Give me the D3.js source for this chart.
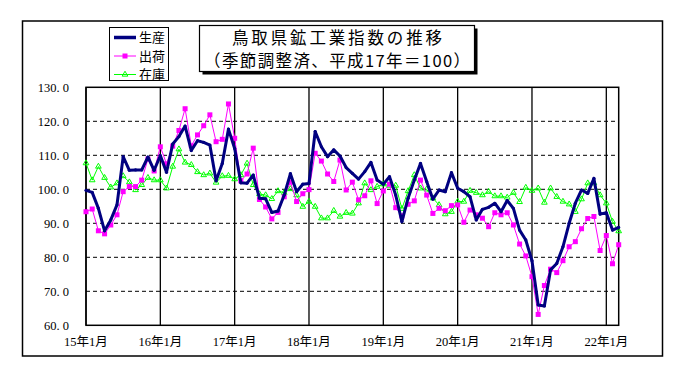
<!DOCTYPE html>
<html>
<head>
<meta charset="utf-8">
<script src="https://cdn.jsdelivr.net/npm/d3@7/dist/d3.min.js"></script>
<style>
  html, body { margin: 0; padding: 0; background: #fff; }
  svg { display: block; }
</style>
</head>
<body>
<svg id="chart" width="680" height="378"></svg>
<script>
// ---- data (monthly, 2015-01 .. 2022-03) ----
const seriesNames = ["生産", "出荷", "在庫"];
const production = [99.7, 99.1, 94.4, 87.8, 91.0, 95.4, 109.6, 105.6, 105.7, 105.7,
  109.5, 105.6, 109.9, 105.0, 113.3, 115.5, 118.6, 111.4, 114.3, 113.8,
  113.0, 102.5, 107.6, 117.7, 112.0, 101.9, 101.8, 104.2, 97.4, 97.2,
  93.2, 93.6, 98.3, 104.6, 99.3, 101.5, 101.7, 117.0, 112.5, 109.6,
  111.6, 109.8, 106.4, 104.7, 103.0, 105.2, 107.9, 102.7, 101.5, 103.7,
  98.3, 90.5, 97.4, 102.7, 107.6, 102.3, 97.1, 99.8, 99.3, 104.9,
  100.3, 99.3, 97.8, 91.0, 94.1, 94.7, 95.9, 93.4, 96.7, 94.4,
  88.0, 85.1, 79.0, 66.0, 65.7, 76.3, 78.2, 83.1, 90.0, 95.9,
  99.8, 98.8, 103.2, 92.7, 93.1, 88.0, 88.8];
const shipments = [93.4, 94.2, 87.8, 86.9, 89.5, 92.5, 99.3, 100.8, 100.8, 102.7,
  108.9, 105.4, 112.5, 107.5, 112.7, 117.3, 123.7, 112.8, 116.0, 118.7,
  121.9, 114.0, 114.7, 125.1, 115.0, 102.5, 104.5, 112.1, 97.0, 94.8,
  91.3, 93.2, 97.8, 102.1, 96.4, 98.7, 99.9, 110.6, 108.3, 104.5,
  102.3, 108.6, 99.8, 102.1, 96.9, 98.1, 102.5, 95.8, 99.5, 101.5,
  94.6, 92.2, 95.6, 96.6, 102.7, 98.3, 92.9, 94.4, 93.7, 95.2,
  95.4, 90.3, 93.9, 92.5, 91.5, 89.0, 93.1, 92.5, 93.1, 89.5,
  83.9, 80.4, 74.3, 63.2, 71.7, 76.5, 75.5, 79.0, 83.1, 84.6,
  88.4, 91.4, 92.0, 82.0, 86.4, 78.1, 83.7];
const inventory = [107.7, 102.7, 106.7, 103.4, 100.6, 101.8, 103.9, 102.1, 99.8, 101.3,
  103.4, 102.7, 102.7, 100.3, 106.7, 111.8, 107.9, 107.2, 105.1, 104.2,
  104.7, 102.0, 103.9, 104.0, 103.0, 104.2, 107.6, 101.3, 98.6, 98.3,
  97.2, 99.5, 99.0, 100.1, 98.3, 94.9, 96.4, 94.9, 91.5, 91.5,
  93.7, 92.0, 93.1, 92.9, 95.9, 101.8, 99.8, 100.8, 101.5, 101.1,
  101.1, 94.3, 99.5, 104.2, 100.3, 100.0, 97.4, 95.4, 92.7, 93.4,
  96.4, 96.4, 99.6, 99.0, 98.3, 99.3, 98.0, 98.0, 97.6, 99.0,
  96.3, 100.5, 99.6, 100.3, 96.1, 100.3, 97.8, 96.4, 95.6, 93.4,
  97.1, 101.8, 101.8, 98.3, 95.9, 90.5, 87.7];
const xTickLabels = ["15年1月", "16年1月", "17年1月", "18年1月", "19年1月", "20年1月", "21年1月", "22年1月"];
const yTicks = [60, 70, 80, 90, 100, 110, 120, 130];
const titleLines = ["鳥取県鉱工業指数の推移", "（季節調整済、平成17年＝100）"];

// ---- layout ----
const svg = d3.select("#chart");
const L = 86, R = 618.7, T = 87.3, B = 325.3;
const nMonths = production.length;
const x = d3.scaleLinear().domain([0, nMonths - 1]).range([L, R]);
const y = d3.scaleLinear().domain([60, 130]).range([B, T]);
const serif = "'Liberation Serif','Times New Roman','Noto Sans CJK JP',serif";
const gothic = "'Noto Sans CJK JP','Noto Sans',sans-serif";

svg.append("rect").attr("width", 680).attr("height", 378).attr("fill", "#fff");
// outer frame
svg.append("rect").attr("x", 22.5).attr("y", 21).attr("width", 640).attr("height", 335)
  .attr("fill", "none").attr("stroke", "#000").attr("stroke-width", 1.5);

// horizontal dashed gridlines
svg.append("g").selectAll("line").data(yTicks.filter(v => v > 60 && v < 130)).join("line")
  .attr("x1", L).attr("x2", R).attr("y1", d => y(d)).attr("y2", d => y(d))
  .attr("stroke", "#000").attr("stroke-width", 1).attr("stroke-dasharray", "4,3");

// vertical year lines
svg.append("g").selectAll("line").data(xTickLabels.map((t, i) => i * 12)).join("line")
  .attr("x1", d => x(d)).attr("x2", d => x(d)).attr("y1", T).attr("y2", B)
  .attr("stroke", "#000").attr("stroke-width", 1.3);

// plot border
svg.append("rect").attr("x", L).attr("y", T).attr("width", R - L).attr("height", B - T)
  .attr("fill", "none").attr("stroke", "#000").attr("stroke-width", 1.5);

// y labels
svg.append("g").selectAll("text").data(yTicks).join("text")
  .attr("x", 69).attr("y", d => y(d)).attr("dy", "0.35em")
  .attr("text-anchor", "end").attr("font-family", serif).attr("font-size", 12.5)
  .attr("fill", "#000").text(d => d3.format(".1f")(d).replace(".", ". "));

// x labels
svg.append("g").selectAll("text").data(xTickLabels).join("text")
  .attr("x", (d, i) => x(i * 12)).attr("y", 346)
  .attr("text-anchor", "middle").attr("font-family", serif).attr("font-size", 12.5)
  .attr("fill", "#000").text(d => d);

// series
const line = d3.line().x((d, i) => x(i)).y(d => y(d));
const gInv = svg.append("g");
gInv.append("path").datum(inventory).attr("d", line).attr("fill", "none")
  .attr("stroke", "#00ff00").attr("stroke-width", 1);
const tri = d3.symbol().type(d3.symbolTriangle).size(14);
gInv.selectAll("path.m").data(inventory).join("path").attr("class", "m")
  .attr("d", tri).attr("transform", (d, i) => `translate(${x(i)},${y(d)})`)
  .attr("fill", "none").attr("stroke", "#00ff00").attr("stroke-width", 1);

const gShip = svg.append("g");
gShip.append("path").datum(shipments).attr("d", line).attr("fill", "none")
  .attr("stroke", "#ff00ff").attr("stroke-width", 1);
gShip.selectAll("rect").data(shipments).join("rect")
  .attr("x", (d, i) => x(i) - 2.5).attr("y", d => y(d) - 2.5)
  .attr("width", 5).attr("height", 5).attr("fill", "#ff00ff");

const gProd = svg.append("g");
gProd.append("path").datum(production).attr("d", line).attr("fill", "none")
  .attr("stroke", "#000080").attr("stroke-width", 3).attr("stroke-linejoin", "round");
gProd.selectAll("circle").data(production).join("circle")
  .attr("cx", (d, i) => x(i)).attr("cy", d => y(d)).attr("r", 1.6).attr("fill", "#000080");

// legend
const lg = svg.append("g");
lg.append("rect").attr("x", 109.5).attr("y", 27.5).attr("width", 59).attr("height", 53)
  .attr("fill", "#fff").attr("stroke", "#000").attr("stroke-width", 1);
const legendItems = [
  { name: seriesNames[0], color: "#000080", w: 3.5, mark: "none" },
  { name: seriesNames[1], color: "#ff00ff", w: 1, mark: "square" },
  { name: seriesNames[2], color: "#00ff00", w: 1, mark: "tri" }
];
legendItems.forEach((it, k) => {
  const yy = 37.5 + k * 18.5;
  lg.append("line").attr("x1", 114).attr("x2", 136).attr("y1", yy).attr("y2", yy)
    .attr("stroke", it.color).attr("stroke-width", it.w);
  if (it.mark === "square") {
    lg.append("rect").attr("x", 122.5).attr("y", yy - 2.5).attr("width", 5).attr("height", 5).attr("fill", it.color);
  } else if (it.mark === "tri") {
    lg.append("path").attr("d", tri).attr("transform", `translate(125,${yy})`)
      .attr("fill", "none").attr("stroke", it.color);
  }
  lg.append("text").attr("x", 139).attr("y", yy).attr("dy", "0.36em")
    .attr("font-family", gothic).attr("font-size", 13).attr("fill", "#000").text(it.name);
});

// title box with shadow
const tb = { x: 199.5, y: 25.5, w: 275, h: 46 };
svg.append("rect").attr("x", tb.x + 3).attr("y", tb.y + 3).attr("width", tb.w).attr("height", tb.h).attr("fill", "#000");
svg.append("rect").attr("x", tb.x).attr("y", tb.y).attr("width", tb.w).attr("height", tb.h)
  .attr("fill", "#fff").attr("stroke", "#000").attr("stroke-width", 1.2);
svg.append("text").attr("x", tb.x + tb.w / 2).attr("y", 43.5).attr("text-anchor", "middle")
  .attr("font-family", gothic).attr("font-size", 16.5).attr("fill", "#000")
  .attr("textLength", 210).attr("lengthAdjust", "spacing").text(titleLines[0]);
svg.append("text").attr("x", tb.x + tb.w / 2).attr("y", 67).attr("text-anchor", "middle")
  .attr("font-family", gothic).attr("font-size", 16.5).attr("fill", "#000")
  .attr("textLength", 266).attr("lengthAdjust", "spacing").text(titleLines[1]);
</script>
</body>
</html>
